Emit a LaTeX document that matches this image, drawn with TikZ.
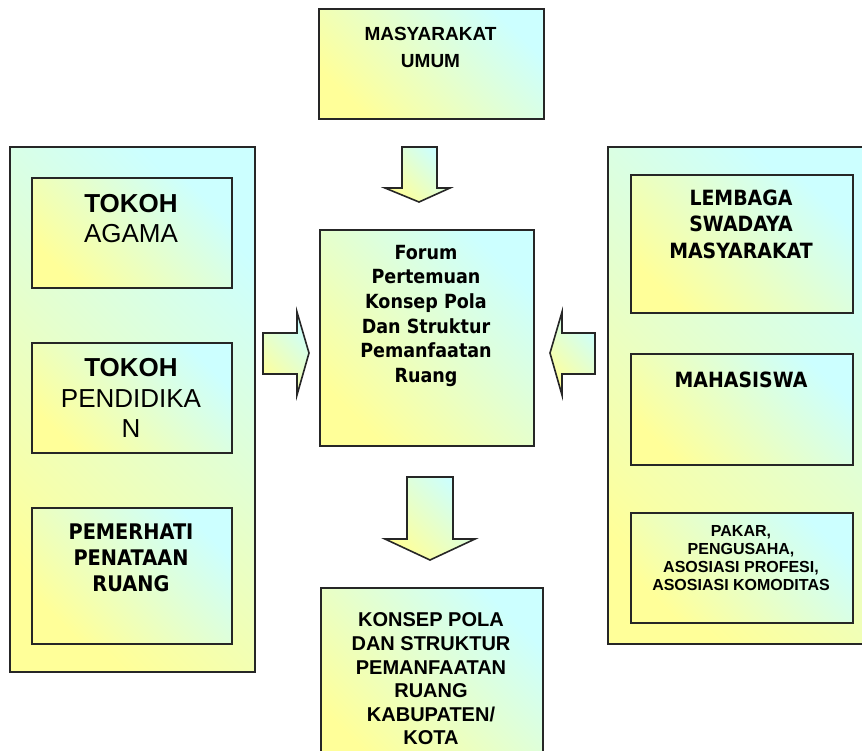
\documentclass[tikz,border=0pt]{standalone}
\usepackage{fontspec}
\newfontfamily\arialf{Liberation Sans}
\newfontfamily\tahf[FakeStretch=0.9]{DejaVu Sans}
\definecolor{gyel}{HTML}{FFFF99}
\definecolor{gcya}{HTML}{CCFFFF}
\begin{document}
\begin{tikzpicture}[x=1pt,y=-1pt,
  grad/.style={draw=black!85, line width=1.6pt, bottom color=gyel, top color=gcya, shading angle=-45},
  boxn/.style={grad, rectangle, inner sep=0pt, anchor=north west},
  txt/.style={anchor=north, inner sep=0pt, align=center, text=black},
  blockarrow/.style={grad, line join=miter}
]
\useasboundingbox (0,0) rectangle (862,750);
\fill[white] (0,0) rectangle (862,750);

% outer panels
\node[boxn, minimum width=245pt, minimum height=525pt] (left) at (9,146) {};
\node[boxn, minimum width=256pt, minimum height=497pt] (right) at (607,146) {};

% top box
\node[boxn, minimum width=225pt, minimum height=110pt] (mas) at (318,8) {};
\node[txt, font={\arialf\bfseries\fontsize{19}{27}\selectfont}] (mast) at (430.5,27.4) {MASYARAKAT\\UMUM};

% centre forum
\node[boxn, minimum width=214pt, minimum height=216pt] (forum) at (319,229) {};
\node[txt, font={\tahf\bfseries\fontsize{19.5}{24.6}\selectfont}] (forumt) at (426,244.8) {Forum\\Pertemuan\\Konsep Pola\\Dan Struktur\\Pemanfaatan\\Ruang};

% bottom box
\node[boxn, minimum width=222pt, minimum height=180pt] (konsep) at (320,587) {};
\node[txt, font={\arialf\bfseries\fontsize{20}{23.6}\selectfont}] (konsept) at (431,612.7) {KONSEP POLA\\DAN STRUKTUR\\PEMANFAATAN\\RUANG\\KABUPATEN/\\KOTA};

% left inner boxes
\node[boxn, minimum width=200pt, minimum height=110pt] (agama) at (31,177) {};
\node[txt, font={\arialf\fontsize{26}{30}\selectfont}] (agamat) at (131,194.4) {\textbf{TOKOH}\\AGAMA};
\node[boxn, minimum width=200pt, minimum height=110pt] (pend) at (31,342) {};
\node[txt, font={\arialf\fontsize{26}{30.5}\selectfont}] (pendt) at (131,358.4) {\textbf{TOKOH}\\PENDIDIKA\\N};
\node[boxn, minimum width=200pt, minimum height=136pt] (pemer) at (31,507) {};
\node[txt, font={\tahf\bfseries\fontsize{21.5}{26}\selectfont}] (pemert) at (131,523.3) {PEMERHATI\\PENATAAN\\RUANG};

% right inner boxes
\node[boxn, minimum width=222pt, minimum height=138pt] (lsm) at (630,174) {};
\node[txt, font={\tahf\bfseries\fontsize{21}{26.5}\selectfont}] (lsmt) at (741,189.7) {LEMBAGA\\SWADAYA\\MASYARAKAT};
\node[boxn, minimum width=222pt, minimum height=111pt] (maha) at (630,353) {};
\node[txt, font={\tahf\bfseries\fontsize{21}{26.5}\selectfont}] (mahat) at (741,371.7) {MAHASISWA};
\node[boxn, minimum width=222pt, minimum height=110pt] (pakar) at (630,512) {};
\node[txt, font={\arialf\bfseries\fontsize{16}{18}\selectfont}] (pakart) at (741,525.5) {PAKAR,\\PENGUSAHA,\\ASOSIASI PROFESI,\\ASOSIASI KOMODITAS};

% block arrows
\path[blockarrow] (402,147) -- (437,147) -- (437,188) -- (450,188) -- (419,202) -- (385,188) -- (402,188) -- cycle;
\path[blockarrow] (407,477) -- (453,477) -- (453,539) -- (475,539) -- (430,560) -- (385,539) -- (407,539) -- cycle;
\path[blockarrow] (263,333) -- (297,333) -- (297,312) -- (309,353) -- (297,395) -- (297,374) -- (263,374) -- cycle;
\path[blockarrow] (595,333) -- (562,333) -- (562,312) -- (550,353) -- (562,395) -- (562,374) -- (595,374) -- cycle;
\end{tikzpicture}
\end{document}
